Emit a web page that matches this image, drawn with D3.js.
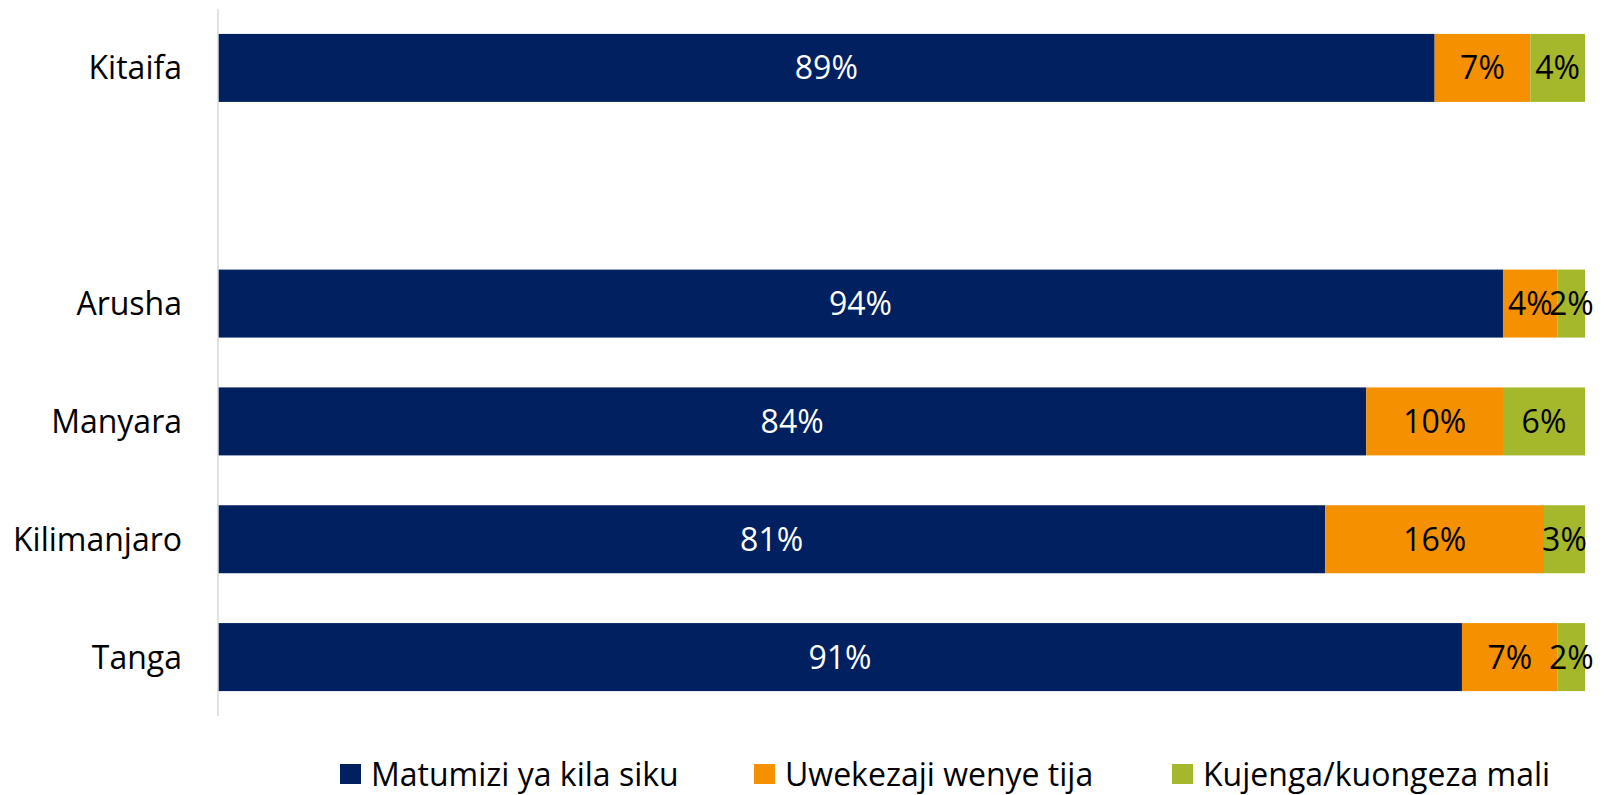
<!DOCTYPE html>
<html>
<head>
<meta charset="utf-8">
<script src="https://cdn.jsdelivr.net/npm/d3@7"></script>
<style>
  html, body { margin: 0; padding: 0; background: #fff; }
  svg { display: block; font-family: "Open Sans", Lato, sans-serif; }
</style>
</head>
<body>
<svg id="chart"></svg>
<script>
// categories (an empty slot keeps the gap under Kitaifa)
const categories = ['Kitaifa', '', 'Arusha', 'Manyara', 'Kilimanjaro', 'Tanga'];
const seriesNames = ['Matumizi ya kila siku', 'Uwekezaji wenye tija', 'Kujenga/kuongeza mali'];
const daily = [89, null, 94, 84, 81, 91];
const investment = [7, null, 4, 10, 16, 7];
const wealth = [4, null, 2, 6, 3, 2];
const colors = ['#002060', '#F59100', '#A5B72A'];
const labelColors = ['#ffffff', '#000000', '#000000'];

const W = 1604, H = 795;
const margin = { top: 9, right: 19, bottom: 79, left: 218 };
const width = W - margin.left - margin.right;
const height = H - margin.top - margin.bottom;
const fontSize = 32;

const svg = d3.select('#chart')
  .attr('width', W)
  .attr('height', H);

const g = svg.append('g')
  .attr('transform', `translate(${margin.left}, ${margin.top})`);

const x = d3.scaleLinear().domain([0, 100]).range([0, width]);
const y = d3.scaleBand().domain(d3.range(categories.length))
  .range([0, height])
  .paddingInner(0.423)
  .paddingOuter(0.2115);

// rows for the stack
const rows = categories.map((c, i) => ({
  idx: i, cat: c, s0: daily[i], s1: investment[i], s2: wealth[i]
})).filter(d => d.s0 != null);

const stack = d3.stack().keys(['s0', 's1', 's2']);
const layers = stack(rows);

const layer = g.selectAll('.layer')
  .data(layers)
  .join('g')
  .attr('class', 'layer')
  .attr('fill', (d, i) => colors[i]);

layer.selectAll('rect')
  .data(d => d)
  .join('rect')
  .attr('x', d => x(d[0]))
  .attr('width', d => x(d[1]) - x(d[0]))
  .attr('y', d => y(d.data.idx))
  .attr('height', y.bandwidth());

layer.selectAll('text')
  .data((d, i) => d.map(p => ({ p, i })))
  .join('text')
  .attr('x', d => (x(d.p[0]) + x(d.p[1])) / 2)
  .attr('y', d => y(d.p.data.idx) + y.bandwidth() / 2)
  .attr('dy', '0.36em')
  .attr('text-anchor', 'middle')
  .attr('font-size', fontSize)
  .attr('fill', d => labelColors[d.i])
  .text(d => (d.p[1] - d.p[0]) + '%');

// category axis
g.append('line')
  .attr('x1', 0).attr('x2', 0)
  .attr('y1', 0).attr('y2', height)
  .attr('stroke', '#d9d9d9')
  .attr('stroke-width', 1.5);

g.append('g').attr('class', 'axis--y')
  .selectAll('text')
  .data(categories.map((c, i) => ({ c, i })).filter(d => d.c))
  .join('text')
  .attr('x', -36)
  .attr('y', d => y(d.i) + y.bandwidth() / 2)
  .attr('dy', '0.36em')
  .attr('text-anchor', 'end')
  .attr('font-size', fontSize)
  .attr('fill', '#000')
  .text(d => d.c);

// legend
const legendX = [340, 754, 1172];
const legend = svg.append('g').attr('class', 'legend')
  .selectAll('g')
  .data(seriesNames)
  .join('g')
  .attr('transform', (d, i) => `translate(${legendX[i]}, 764)`);

legend.append('rect')
  .attr('width', 21).attr('height', 20)
  .attr('fill', (d, i) => colors[i]);

legend.append('text')
  .attr('x', 31)
  .attr('y', 10)
  .attr('dy', '0.36em')
  .attr('font-size', fontSize)
  .attr('fill', '#000')
  .text(d => d);
</script>
</body>
</html>
